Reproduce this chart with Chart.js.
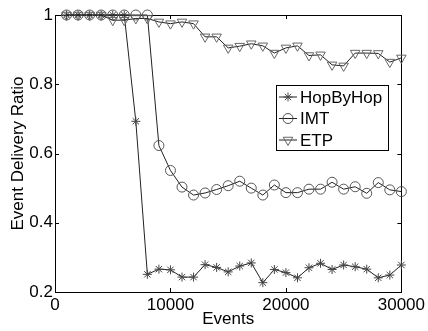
<!DOCTYPE html>
<html>
<head>
<meta charset="utf-8">
<script src="https://cdn.jsdelivr.net/npm/chart.js@4"></script>
<style>
  html, body { margin: 0; padding: 0; background: #fff; }
  canvas { display: block; }
</style>
</head>
<body>
<canvas id="chart" width="428" height="331"></canvas>
<script>
// data
const events = [1000, 2000, 3000, 4000, 5000, 6000, 7000, 8000, 9000, 10000,
  11000, 12000, 13000, 14000, 15000, 16000, 17000, 18000, 19000, 20000,
  21000, 22000, 23000, 24000, 25000, 26000, 27000, 28000, 29000, 30000];

const hopByHop = [1, 1, 1, 1, 1, 1, 0.693, 0.251, 0.266, 0.264,
  0.243, 0.243, 0.279, 0.271, 0.258, 0.275, 0.284, 0.227, 0.265, 0.256,
  0.241, 0.27, 0.283, 0.265, 0.278, 0.273, 0.266, 0.241, 0.249, 0.278];

const imt = [1, 1, 1, 1, 1, 1, 1, 1, 0.623, 0.551,
  0.503, 0.48, 0.486, 0.496, 0.507, 0.52, 0.5, 0.48, 0.509, 0.487,
  0.487, 0.497, 0.497, 0.517, 0.497, 0.504, 0.485, 0.516, 0.495, 0.49];

const etp = [1, 1, 1, 1, 0.985, 0.985, 0.99, 0.99, 0.98, 0.975,
  0.98, 0.975, 0.937, 0.937, 0.905, 0.91, 0.917, 0.911, 0.89, 0.905,
  0.911, 0.883, 0.885, 0.856, 0.853, 0.89, 0.89, 0.889, 0.864, 0.876];

const xTicks = [0, 10000, 20000, 30000];
const xTickLabels = ['0', '10000', '20000', '30000'];
const yTicks = [0.2, 0.4, 0.6, 0.8, 1];
const yTickLabels = ['0.2', '0.4', '0.6', '0.8', '1'];

const FONT = { family: "'Liberation Sans', Arial, sans-serif", size: 17 };

function toXY(ys) {
  return ys.map((v, i) => ({ x: events[i], y: v }));
}

// kotak sumbu + tick ke dalam (gaya MATLAB)
const boxPlugin = {
  id: 'box',
  beforeDatasetsDraw(chart) {
    const { ctx, chartArea: a, scales } = chart;
    ctx.save();
    ctx.strokeStyle = '#000';
    ctx.lineWidth = 1;
    ctx.strokeRect(Math.round(a.left) + 0.5, Math.round(a.top) + 0.5,
      Math.round(a.right - a.left), Math.round(a.bottom - a.top));
    const len = 4;
    ctx.beginPath();
    xTicks.forEach(v => {
      const x = Math.round(scales.x.getPixelForValue(v)) + 0.5;
      ctx.moveTo(x, a.bottom); ctx.lineTo(x, a.bottom - len);
      ctx.moveTo(x, a.top); ctx.lineTo(x, a.top + len);
    });
    yTicks.forEach(v => {
      const y = Math.round(scales.y.getPixelForValue(v)) + 0.5;
      ctx.moveTo(a.left, y); ctx.lineTo(a.left + len, y);
      ctx.moveTo(a.right, y); ctx.lineTo(a.right - len, y);
    });
    ctx.stroke();
    ctx.restore();
  }
};

// legenda di dalam area plot
const legendPlugin = {
  id: 'boxLegend',
  afterDraw(chart) {
    const { ctx } = chart;
    const x0 = 276, y0 = 85, w = 112, h = 65;
    ctx.save();
    ctx.fillStyle = '#fff';
    ctx.fillRect(x0, y0, w, h);
    ctx.strokeStyle = '#000';
    ctx.lineWidth = 1;
    ctx.strokeRect(x0 + 0.5, y0 + 0.5, w, h);
    ctx.font = FONT.size + 'px ' + FONT.family;
    ctx.textBaseline = 'middle';
    chart.data.datasets.forEach((ds, i) => {
      const y = y0 + 12 + i * 21.5;
      ctx.strokeStyle = ds.borderColor;
      ctx.lineWidth = 1;
      ctx.beginPath();
      ctx.moveTo(x0 + 3, y); ctx.lineTo(x0 + 21, y);
      ctx.stroke();
      ctx.strokeStyle = ds.pointBorderColor;
      ctx.fillStyle = 'rgba(0,0,0,0)';
      Chart.helpers.drawPoint(ctx, {
        pointStyle: ds.pointStyle,
        radius: ds.pointRadius,
        rotation: ds.pointRotation || 0,
        borderWidth: 1
      }, x0 + 12, y);
      ctx.fillStyle = '#000';
      ctx.fillText(ds.label, x0 + 24, y + 1);
    });
    ctx.restore();
  }
};

new Chart(document.getElementById('chart'), {
  type: 'line',
  data: {
    datasets: [
      {
        label: 'HopByHop',
        data: toXY(hopByHop),
        borderColor: '#222',
        borderWidth: 1,
        pointStyle: 'star',
        pointRadius: 4.5,
        pointBorderColor: '#444',
        pointBackgroundColor: 'rgba(0,0,0,0)',
        pointBorderWidth: 1,
        clip: false,
        order: 3
      },
      {
        label: 'IMT',
        data: toXY(imt),
        borderColor: '#222',
        borderWidth: 1,
        pointStyle: 'circle',
        pointRadius: 5,
        pointBorderColor: '#555',
        pointBackgroundColor: 'rgba(0,0,0,0)',
        pointBorderWidth: 1,
        clip: false,
        order: 2
      },
      {
        label: 'ETP',
        data: toXY(etp),
        borderColor: '#222',
        borderWidth: 1,
        pointStyle: 'triangle',
        pointRotation: 180,
        pointRadius: 5.5,
        pointBorderColor: '#666',
        pointBackgroundColor: 'rgba(0,0,0,0)',
        pointBorderWidth: 1,
        clip: false,
        order: 1
      }
    ]
  },
  options: {
    responsive: false,
    animation: false,
    layout: { padding: { top: 15, right: 25, left: 0, bottom: 0 } },
    plugins: {
      legend: { display: false },
      tooltip: { enabled: false }
    },
    elements: { line: { tension: 0 } },
    scales: {
      x: {
        type: 'linear',
        min: 0,
        max: 30000,
        grid: { display: false, drawTicks: false },
        border: { display: false },
        afterBuildTicks: s => { s.ticks = xTicks.map(v => ({ value: v })); },
        afterFit: s => { s.height = 39; },
        ticks: {
          color: '#000',
          font: FONT,
          padding: 3,
          maxRotation: 0,
          callback: (v) => xTickLabels[xTicks.indexOf(v)]
        },
        title: {
          display: true,
          text: 'Events',
          color: '#000',
          font: FONT,
          padding: { top: 0, bottom: 1 }
        }
      },
      y: {
        type: 'linear',
        min: 0.2,
        max: 1,
        grid: { display: false, drawTicks: false },
        border: { display: false },
        afterBuildTicks: s => { s.ticks = yTicks.map(v => ({ value: v })); },
        afterFit: s => { s.width = 55; },
        ticks: {
          color: '#000',
          font: FONT,
          padding: 2,
          callback: (v) => yTickLabels[yTicks.indexOf(v)]
        },
        title: {
          display: true,
          text: 'Event Delivery Ratio',
          color: '#000',
          font: FONT,
          padding: { top: 8, bottom: 0 }
        }
      }
    }
  },
  plugins: [boxPlugin, legendPlugin]
});
</script>
</body>
</html>
